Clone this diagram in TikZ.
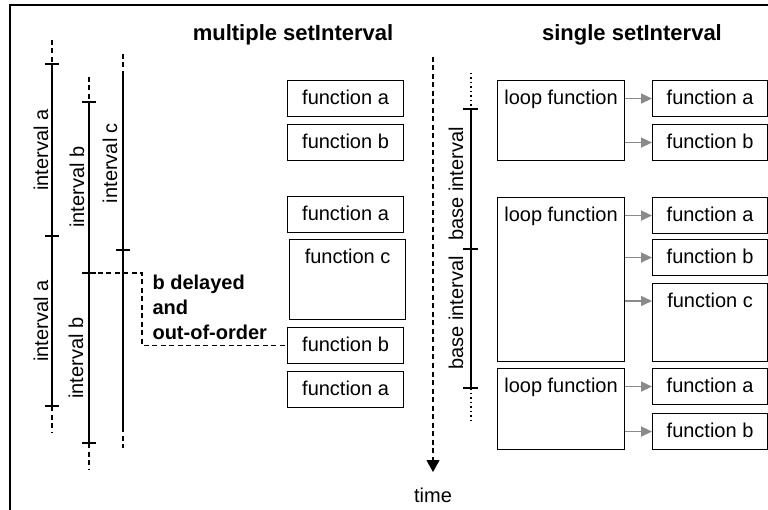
\documentclass[tikz,border=0pt]{standalone}
\usepackage{fontspec}
\setmainfont{Liberation Sans}
\usetikzlibrary{arrows.meta}
\definecolor{callgray}{HTML}{8A8A8A}

\begin{document}
\begin{tikzpicture}[x=1pt, y=-1pt, line width=1.1pt,
    font=\fontsize{20}{24}\selectfont,
    fbox/.style={draw, anchor=north west, minimum width=116pt, minimum height=36pt,
      inner sep=0pt, text height=15pt, text depth=4pt},
    toptext/.style={anchor=north, inner sep=0pt, minimum height=36pt, text height=15pt, text depth=4pt},
    title/.style={font=\fontsize{22}{26}\selectfont\bfseries},
    ilabel/.style={rotate=90, inner sep=0pt},
    dashline/.style={dash pattern=on 5pt off 3.5pt},
    dotline/.style={dash pattern=on 1.5pt off 3pt},
    call/.style={draw=callgray, line width=1.5pt, -{Triangle[length=11pt, width=10pt]}}]
  \useasboundingbox (0,0) rectangle (768,510);
  \draw[line width=1.4pt] (10,510) -- (10,5) -- (768,5);

  \node[title] (multi) at (293,35) {multiple setInterval};
  \node[title] (single) at (632,35) {single setInterval};

  % multiple setInterval
  \draw[dashline] (52,40) -- (52,64);
  \draw (52,64) -- (52,406);
  \draw[dashline] (52,406) -- (52,433);
  \foreach \y in {64,236,406} \draw (45,\y) -- (59,\y);
  \draw[dashline] (89,77) -- (89,102);
  \draw (89,102) -- (89,443);
  \draw[dashline] (89,443) -- (89,470);
  \foreach \y in {102,273,443} \draw (82,\y) -- (96,\y);
  \draw[dashline] (123,54) -- (123,76);
  \draw (123,76) -- (123,427);
  \draw[dashline] (123,427) -- (123,448);
  \draw (116,250) -- (130,250);
  \coordinate (delay) at (89,273);

  \node[ilabel] (ia1) at (41,150) {interval a};
  \node[ilabel] (ia2) at (41,321) {interval a};
  \node[ilabel] (ib1) at (77,187) {interval b};
  \node[ilabel] (ib2) at (76,358) {interval b};
  \node[ilabel] (ic1) at (110,163) {interval c};

  \node[fbox] (ma1) at (287,80) {function a};
  \node[fbox] (mb1) at (287,124) {function b};
  \node[fbox] (ma2) at (287,196) {function a};
  \node[fbox, minimum height=80pt, label={[toptext]north:function c}] (mc) at (289,239) {};
  \node[fbox] (mb2) at (287,327) {function b};
  \node[fbox] (ma3) at (287,371) {function a};

  \node[font=\fontsize{20}{25}\selectfont\bfseries, align=left, anchor=west, inner sep=0pt]
    (late) at (152,307) {b delayed\\and\\out-of-order};
  \draw[dashline] (delay) -- ++(53,0) |- (mb2.west);

  % time
  \node (time) at (433,495) {time};
  \draw[dashline, -{Triangle[length=12pt, width=13pt]}] (433,57) -- (433,472);

  % single setInterval
  \draw[dotline] (471,73) -- (471,109);
  \draw (471,109) -- (471,388);
  \draw[dotline] (471,388) -- (471,422);
  \foreach \y in {109,249,388} \draw (463,\y) -- (478,\y);
  \node[ilabel] (bi1) at (456,184) {base interval};
  \node[ilabel] (bi2) at (456,313) {base interval};

  \node[fbox, minimum width=127pt, minimum height=80pt, label={[toptext]north:loop function}] (loop1) at (497,80) {};
  \node[fbox, minimum width=127pt, minimum height=164pt, label={[toptext]north:loop function}] (loop2) at (497,197) {};
  \node[fbox, minimum width=127pt, minimum height=81pt, label={[toptext]north:loop function}] (loop3) at (497,368) {};

  \node[fbox, minimum width=115pt] (sa1) at (652,80) {function a};
  \node[fbox, minimum width=115pt] (sb1) at (652,124) {function b};
  \node[fbox, minimum width=115pt] (sa2) at (652,197) {function a};
  \node[fbox, minimum width=115pt] (sb2) at (652,239) {function b};
  \node[fbox, minimum width=115pt, minimum height=78pt, label={[toptext]north:function c}] (sc) at (652,283) {};
  \node[fbox, minimum width=115pt] (sa3) at (652,368) {function a};
  \node[fbox, minimum width=115pt] (sb3) at (652,413) {function b};

  \draw[call] (loop1.east |- sa1.west) -- (sa1.west);
  \draw[call] (loop1.east |- sb1.west) -- (sb1.west);
  \draw[call] (loop2.east |- sa2.west) -- (sa2.west);
  \draw[call] (loop2.east |- sb2.west) -- (sb2.west);
  \draw[call] ([yshift=-18pt]loop2.east |- sc.north west) -- ([yshift=-18pt]sc.north west);
  \draw[call] (loop3.east |- sa3.west) -- (sa3.west);
  \draw[call] (loop3.east |- sb3.west) -- (sb3.west);
\end{tikzpicture}
\end{document}
